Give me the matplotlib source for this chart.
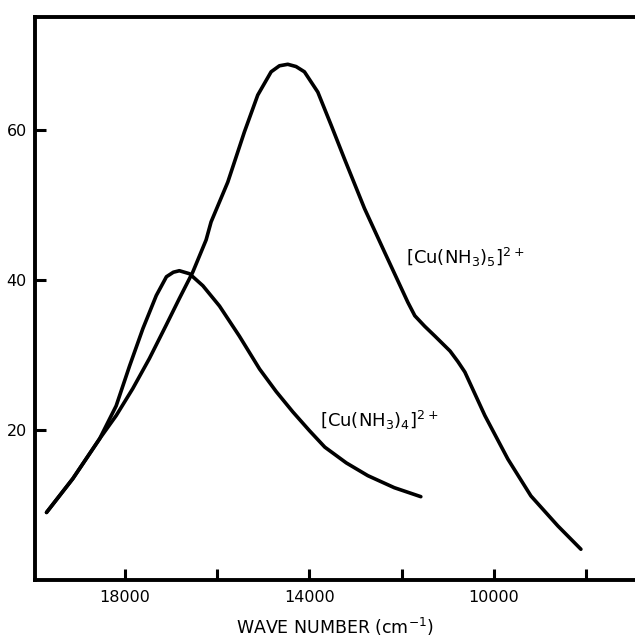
import matplotlib
matplotlib.use("Agg")
import matplotlib.pyplot as plt

# [Cu(NH3)5]2+ curve
penta_x = [19700, 19130, 18550, 18190, 17830, 17470, 17110, 16820, 16530, 16240,
           16132, 15770, 15409, 15120, 14830, 14650, 14469, 14290, 14108, 13818,
           13529, 13240, 12806, 12372, 11866, 11714, 11500, 11280, 10950, 10781,
           10629, 10195, 9696, 9197, 8612, 8113]
penta_y = [9.0, 13.5, 18.8, 21.9, 25.5, 29.5, 33.9, 37.5, 41.0, 45.3,
           47.7, 53.0, 59.7, 64.6, 67.7, 68.5, 68.7, 68.4, 67.7, 65.0,
           60.6, 56.1, 49.5, 43.7, 37.0, 35.2, 33.8, 32.5, 30.5, 29.1,
           27.7, 21.9, 16.1, 11.2, 7.2, 4.1]

# [Cu(NH3)4]2+ curve
tetra_x = [19700, 19130, 18550, 18190, 17900, 17610, 17320, 17100, 16950, 16820,
           16600, 16310, 15950, 15520, 15080, 14720, 14360, 14000, 13666, 13200,
           12733, 12160, 11584]
tetra_y = [9.0, 13.5, 18.8, 23.2, 28.5, 33.5, 37.9, 40.4, 41.0, 41.2,
           40.8, 39.2, 36.5, 32.5, 28.1, 25.1, 22.4, 19.9, 17.7, 15.6,
           13.9, 12.3, 11.1]

xticks = [18000, 16000, 14000, 12000, 10000, 8000]
xticklabels = ["18000", "", "14000", "", "10000", ""]
yticks = [20, 40, 60]
yticklabels = ["20", "40", "60"]

plt.rcParams['font.family'] = ['DejaVu Sans']
plt.rcParams['mathtext.fontset'] = 'dejavusans'

fig = plt.figure(figsize=(6.35, 6.44), dpi=100)
ax = fig.add_axes([35/635, 1 - 580/644, 1 - 35/635, (580 - 17)/644])

ax.plot(penta_x, penta_y, color='black', lw=2.6, solid_capstyle='round', solid_joinstyle='round')
ax.plot(tetra_x, tetra_y, color='black', lw=2.6, solid_capstyle='round', solid_joinstyle='round')

ax.set_xlim(19950, 6940)
ax.set_ylim(0, 75)
ax.set_xticks(xticks)
ax.set_xticklabels(xticklabels)
ax.set_yticks(yticks)
ax.set_yticklabels(yticklabels)
ax.xaxis.set_tick_params(direction='in', length=8, width=2.2, labelsize=11.5, pad=7)
ax.yaxis.set_tick_params(direction='in', length=8, width=2.2, labelsize=11.5, pad=6)

for s in ['left', 'bottom', 'top']:
    ax.spines[s].set_linewidth(2.8)
ax.spines['right'].set_visible(False)

ax.text(11909, 43, r'$[\mathrm{Cu(NH_3)_5}]^{2+}$', fontsize=13, va='center', ha='left')
ax.text(13774, 21.2, r'$[\mathrm{Cu(NH_3)_4}]^{2+}$', fontsize=13, va='center', ha='left')

ax.set_xlabel(r'WAVE NUMBER (cm$^{-1}$)', fontsize=12.5, labelpad=8)

fig.savefig('out.png', dpi=100)
